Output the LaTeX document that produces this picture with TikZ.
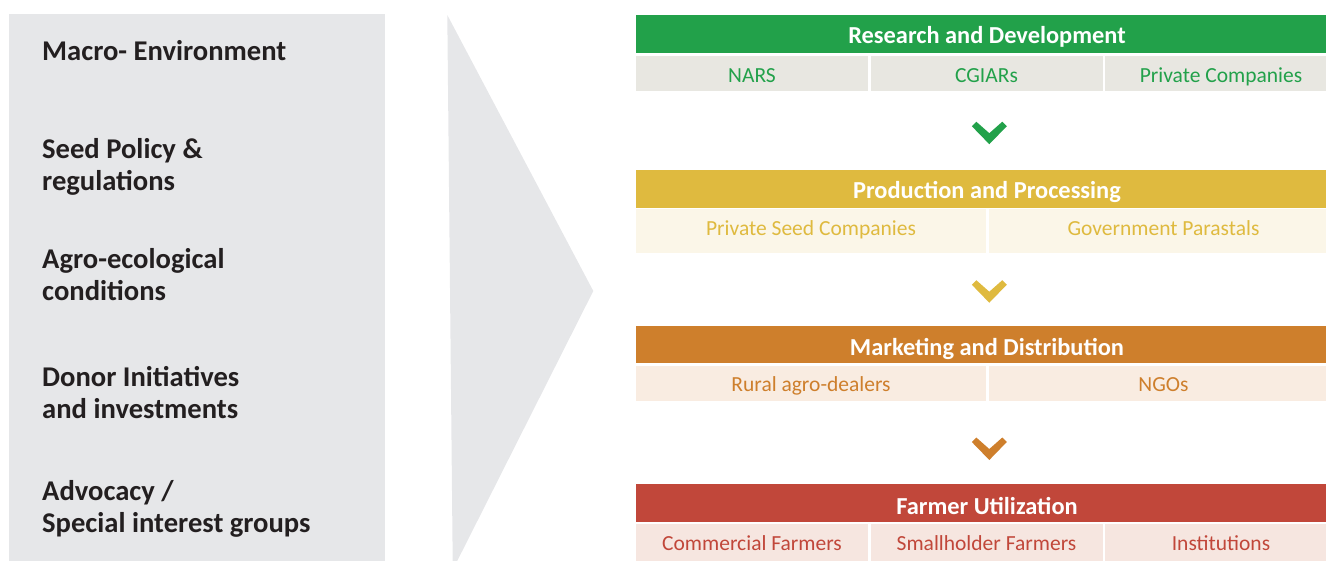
\documentclass[tikz,border=0pt]{standalone}
\usepackage{fontspec}
\setmainfont{Carlito}
\definecolor{panel}{HTML}{E6E7E9}
\definecolor{ink}{HTML}{231F20}
\definecolor{cgreen}{HTML}{22A14A}
\definecolor{cgreenbg}{HTML}{E8E7E1}
\definecolor{cyellow}{HTML}{DFBA3F}
\definecolor{cyellowbg}{HTML}{FBF6E8}
\definecolor{corange}{HTML}{CE7F2C}
\definecolor{corangebg}{HTML}{F9ECE1}
\definecolor{cred}{HTML}{C1473A}
\definecolor{credbg}{HTML}{F6E6E0}
\tikzset{
  lefttext/.style={anchor=base west, inner sep=0pt, text=ink,
    font=\bfseries\fontsize{28.6}{32}\selectfont},
  hdr/.style 2 args={minimum width=702pt, minimum height=38pt, inner sep=0pt,
    fill=#1, text=white, text height=#2, text depth=0pt,
    font=\bfseries\fontsize{24.4}{24}\selectfont},
  cell/.style n args={4}{minimum width=#1, minimum height=#2, inner sep=0pt,
    fill=#3bg, text=#3, text height=#4, text depth=0pt,
    font=\fontsize{21.5}{21.5}\selectfont},
  pics/chev/.style={code={
    \fill[#1] (-17.5,4.5) -- (-13,0) -- (0,11.5) -- (13,0) -- (17.5,4.5) -- (0,22.5) -- cycle;}}
}
\begin{document}
\begin{tikzpicture}[x=1pt,y=-1pt]
\useasboundingbox (0,0) rectangle (1326,560);
% left panel
\fill[panel] (9,14) rectangle (385,562);
\node[lefttext] (m1) at (42,60) {Macro- Environment};
\node[lefttext] (m2) at (42,158) {\begin{tabular}[t]{@{}l@{}}Seed Policy \&\\regulations\end{tabular}};
\node[lefttext] (m3) at (42,268) {\begin{tabular}[t]{@{}l@{}}Agro-ecological\\conditions\end{tabular}};
\node[lefttext] (m4) at (42,386.5) {\begin{tabular}[t]{@{}l@{}}Donor Initiatives\\and investments\end{tabular}};
\node[lefttext] (m5) at (42,500) {\begin{tabular}[t]{@{}l@{}}Advocacy /\\Special interest groups\end{tabular}};
% big arrow
\fill[panel] (447.3,15) -- (593.3,291) -- (456.7,562) -- (452.7,562) -- cycle;
% Research and Development
\node[hdr={cgreen}{18pt}] (rd) at (987,34) {Research and Development};
\node[cell={232pt}{34.5pt}{cgreen}{17.5pt}] (nars) at (752,73.25) {NARS};
\node[cell={232pt}{34.5pt}{cgreen}{17.5pt}] (cgiar) at (986.5,73.25) {CGIARs};
\node[cell={232pt}{34.5pt}{cgreen}{17.5pt}] (priv) at (1221,73.25) {Private Companies};
\pic at (989.3,121.7) {chev=cgreen};
% Production and Processing
\node[hdr={cyellow}{18.6pt}] (pp) at (987,189) {Production and Processing};
\node[cell={350pt}{44pt}{cyellow}{7.4pt}] (psc) at (811,231.3) {Private Seed Companies};
\node[cell={350pt}{44pt}{cyellow}{7.4pt}] (gp) at (1163.5,231.3) {Government Parastals};
\pic at (989.3,280.2) {chev=cyellow};
% Marketing and Distribution
\node[hdr={corange}{21.4pt}, minimum height=37.3pt] (md) at (987,344.35) {Marketing and Distribution};
\node[cell={350pt}{35pt}{corange}{16.4pt}] (rad) at (811,383.5) {Rural agro-dealers};
\node[cell={350pt}{35pt}{corange}{16.4pt}] (ngo) at (1163.5,383.5) {NGOs};
\pic at (989.3,437.5) {chev=corange};
% Farmer Utilization
\node[hdr={cred}{22.8pt}, minimum height=37.7pt] (fu) at (987,502.85) {Farmer Utilization};
\node[cell={232pt}{38pt}{cred}{14pt}] (cf) at (752,543) {Commercial Farmers};
\node[cell={232pt}{38pt}{cred}{14pt}] (sf) at (986.5,543) {Smallholder Farmers};
\node[cell={232pt}{38pt}{cred}{14pt}] (inst) at (1221,543) {Institutions};
\end{tikzpicture}
\end{document}
